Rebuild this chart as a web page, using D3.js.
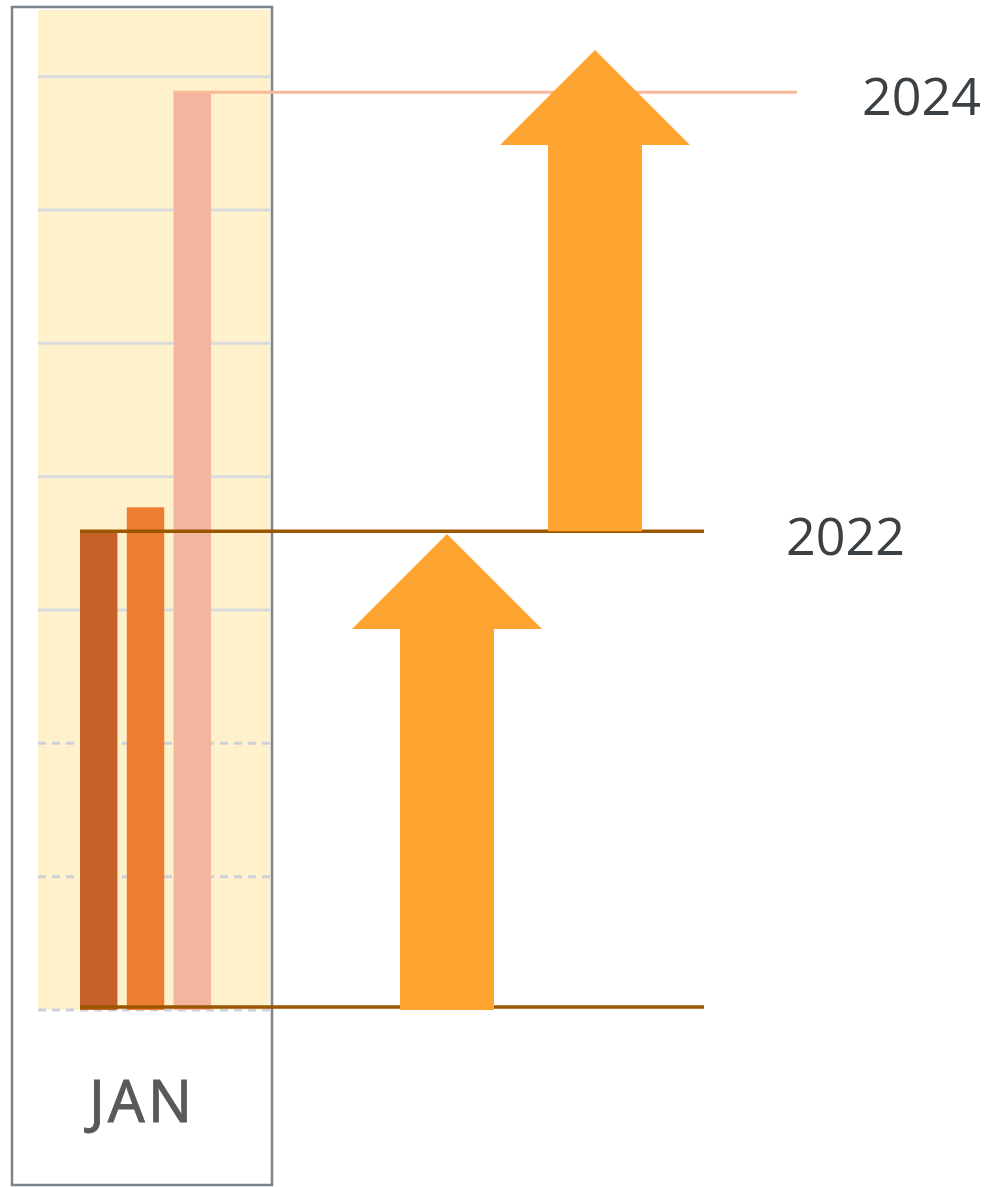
<!DOCTYPE html>
<html>
<head>
<meta charset="utf-8">
<script src="https://cdn.jsdelivr.net/npm/d3@7"></script>
<style>
  html, body { margin: 0; padding: 0; background: #fff; }
  svg { display: block; }
</style>
</head>
<body>
<svg id="chart"></svg>
<script>
// data
const categories = ['JAN']
const series = ['2022', '2023', '2024']
const values = [3.59, 3.77, 6.89]
const gridTicks = [0, 1, 2, 3, 4, 5, 6, 7]
const dashedTicks = [0, 1, 2]
const markerLabels = ['2022', '2024']
// arrows: from value -> to value
const arrowFrom = [0, 3.59]
const arrowTo = [3.57, 7.2]

const colors = ['#c4622a', '#ed7d31', '#f4b5a0']

const W = 997, H = 1187
const svg = d3.select('#chart').attr('width', W).attr('height', H)

// scales
const y = d3.scaleLinear().domain([0, 7.5]).range([1010, 10])
const xCat = d3.scaleBand().domain(categories).range([38, 270])
const x = d3.scaleBand().domain(series).range([80, 211]).paddingInner(0.2)

// frame + plot background
svg.append('rect')
  .attr('x', 12).attr('y', 7).attr('width', 260).attr('height', 1178)
  .attr('fill', '#fff').attr('stroke', '#7b848b').attr('stroke-width', 2.5)

svg.append('rect')
  .attr('x', xCat.range()[0]).attr('y', y(7.5))
  .attr('width', xCat.bandwidth()).attr('height', y(0) - y(7.5))
  .attr('fill', '#fff1cc')

// gridlines
svg.append('g').selectAll('line')
  .data(gridTicks)
  .join('line')
    .attr('x1', 38).attr('x2', 270)
    .attr('y1', d => y(d)).attr('y2', d => y(d))
    .attr('stroke', d => dashedTicks.includes(d) ? '#cdd2d9' : '#d9dbdd')
    .attr('stroke-width', 3)
    .attr('stroke-dasharray', d => dashedTicks.includes(d) ? '8,6' : null)

// bars
svg.append('g').selectAll('rect')
  .data(values)
  .join('rect')
    .attr('x', (d, i) => x(series[i]))
    .attr('y', d => y(d))
    .attr('width', x.bandwidth())
    .attr('height', d => y(0) - y(d))
    .attr('fill', (d, i) => colors[i])

// category label
svg.append('text')
  .attr('x', xCat(categories[0]) + xCat.bandwidth() / 2 - 12)
  .attr('y', 1122)
  .attr('text-anchor', 'middle')
  .attr('font-family', 'Noto Sans, sans-serif')
  .attr('font-size', 58)
  .attr('letter-spacing', 3)
  .attr('fill', '#595959')
  .attr('stroke', '#595959')
  .attr('stroke-width', 0.8)
  .text(categories[0])

// reference lines
const v22 = values[series.indexOf('2022')]
const v24 = values[series.indexOf('2024')]
svg.append('line')
  .attr('x1', x('2022')).attr('x2', 704)
  .attr('y1', y(0) - 3).attr('y2', y(0) - 3)
  .attr('stroke', '#9b5600').attr('stroke-width', 3.5)
svg.append('line')
  .attr('x1', x('2022')).attr('x2', 704)
  .attr('y1', y(v22)).attr('y2', y(v22))
  .attr('stroke', '#9b5600').attr('stroke-width', 3.5)
svg.append('line')
  .attr('x1', x('2024')).attr('x2', 797)
  .attr('y1', y(v24) + 1).attr('y2', y(v24) + 1)
  .attr('stroke', '#f9b99b').attr('stroke-width', 3)

// arrows
const arrowCx = [447, 595]
const shaftW = 94, headW = 190, headH = 95
svg.append('g').selectAll('path')
  .data(arrowFrom)
  .join('path')
    .attr('d', (d, i) => {
      const cx = arrowCx[i], yb = y(d), yt = y(arrowTo[i]), yh = yt + headH
      return `M${cx - shaftW / 2},${yb} L${cx - shaftW / 2},${yh} L${cx - headW / 2},${yh}
              L${cx},${yt} L${cx + headW / 2},${yh} L${cx + shaftW / 2},${yh} L${cx + shaftW / 2},${yb} Z`
    })
    .attr('fill', '#ffa430')

// year labels
svg.append('g').selectAll('text')
  .data(markerLabels)
  .join('text')
    .attr('x', d => d === '2024' ? 862 : 786)
    .attr('y', d => y(values[series.indexOf(d)]) + 24)
    .attr('font-family', 'Open Sans, sans-serif')
    .attr('font-size', 52)
    .attr('fill', '#3b4045')
    .text(d => d)
</script>
</body>
</html>
